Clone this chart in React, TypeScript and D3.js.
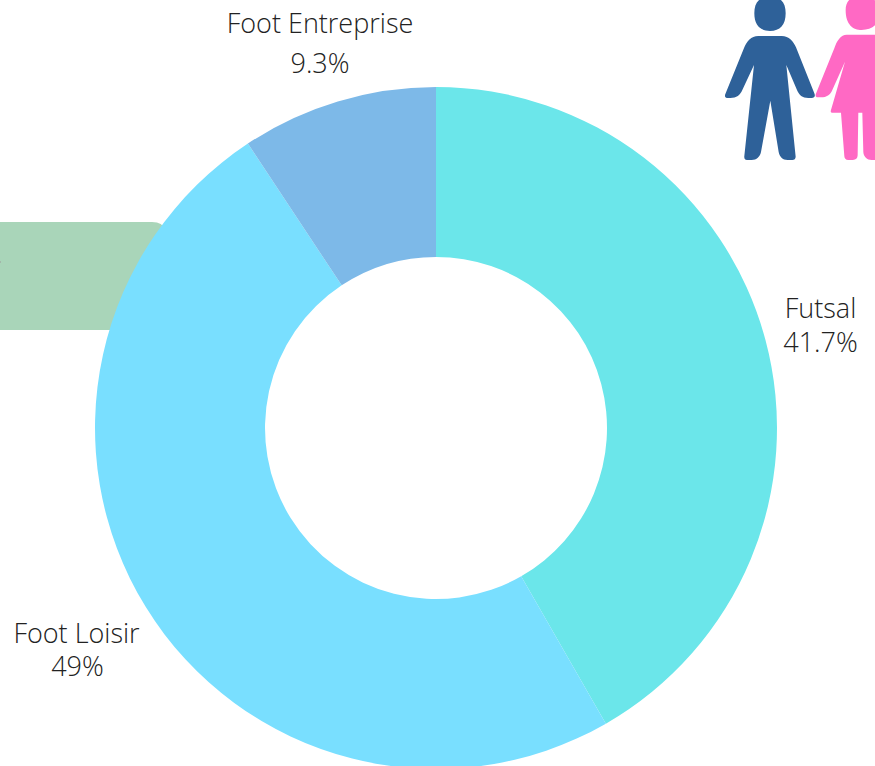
import React from "react";
import * as d3 from "d3";

const categories = ["Futsal", "Foot Loisir", "Foot Entreprise"];
const values = [41.7, 49, 9.3];
const valueLabels = ["41.7%", "49%", "9.3%"];
const colors = ["#6BE6EA", "#79DFFF", "#7DB9E8"];
const labelPositions: [number, number, number][] = [
  [820.5, 318, 352],
  [76.5, 643, 676],
  [320, 33, 73],
];
const valueOffsets = [0, 1, 0];

const MAN =
  "M118 40 C118 10 130 -10 165 -10 C200 -10 212 10 212 40 C212 75 195 93 165 93 C135 93 118 75 118 40 Z " +
  "M130 108 L200 108 C222 108 236 125 243 142 L298 280 C302 290 298 294 290 294 L280 294 C262 294 252 285 246 270 L214 195 L242 470 C242 476 238 480 232 480 L218 480 C202 480 194 470 191 456 L166 302 L138 456 C135 470 125 480 110 480 L96 480 C90 480 87 476 88 468 L117 195 L82 270 C76 285 64 294 46 294 L36 294 C30 294 28 288 32 280 L88 142 C95 125 108 108 130 108 Z";
const WOMAN =
  "M392 30 C392 5 405 -12 440 -12 C475 -12 490 5 490 30 L490 60 C485 78 465 90 440 90 C415 90 392 75 392 30 Z " +
  "M395 104 L490 104 L490 480 L470 480 C456 480 446 470 445 456 L442 338 L430 338 L428 466 C428 475 422 480 414 480 L400 480 C392 480 388 475 388 468 L378 338 L352 338 C348 338 346 335 348 330 L390 185 L352 270 C346 285 335 292 318 292 L308 292 C302 292 300 286 304 278 L358 145 C365 122 378 104 395 104 Z";

export default function App() {
  const width = 875;
  const height = 766;
  const cx = 436;
  const cy = 428;
  const outer = 341;
  const inner = 171;
  const pie = d3.pie<number>().sort(null)(values);
  const arc = d3.arc<d3.PieArcDatum<number>>().innerRadius(inner).outerRadius(outer);
  const font = "'Open Sans', sans-serif";
  return (
    <svg
      width={width}
      height={height}
      viewBox={`0 0 ${width} ${height}`}
      style={{ position: "absolute", left: 0, top: 0, display: "block" }}
    >
      <path d="M0 222 L152 222 Q163 222 165 230 L165 330 L0 330 Z" fill="#A9D5B9" />
      <rect x={0} y={261} width={1} height={2} fill="#a3b8aa" />
      <g transform={`translate(${cx},${cy})`}>
        {pie.map((d, i) => (
          <path key={categories[i]} d={arc(d) ?? ""} fill={colors[i]} />
        ))}
      </g>
      <g transform="translate(715,0) scale(0.3333)">
        <path d={WOMAN} fill="#FF69C4" />
        <path d={MAN} fill="#2E6199" />
      </g>
      {categories.map((c, i) => (
        <g key={c} fontFamily={font} fontWeight={300} fontSize={27} fill="#222" textAnchor="middle">
          <text x={labelPositions[i][0]} y={labelPositions[i][1]}>{c}</text>
          <text x={labelPositions[i][0] + valueOffsets[i]} y={labelPositions[i][2]}>{valueLabels[i]}</text>
        </g>
      ))}
    </svg>
  );
}
